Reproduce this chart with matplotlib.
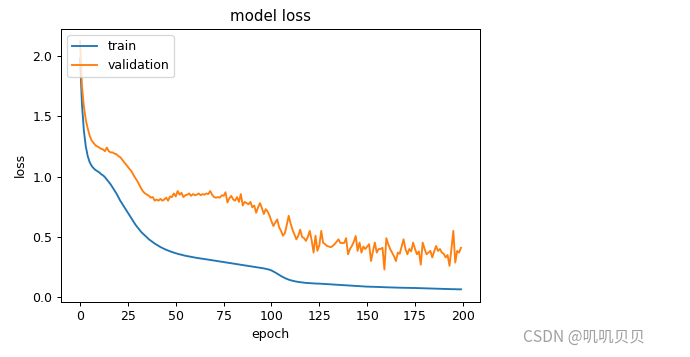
import numpy as np
import matplotlib
matplotlib.use("Agg")
import matplotlib.pyplot as plt

# === Loss history (one value per epoch) ===
train_loss = [
    1.98, 1.60, 1.38, 1.25, 1.17, 1.12, 1.09, 1.07, 1.055, 1.045,
    1.035, 1.02, 1.01, 0.995, 0.975, 0.955, 0.935, 0.91, 0.885, 0.86,
    0.83, 0.80, 0.775, 0.75, 0.725, 0.70, 0.675, 0.65, 0.625, 0.60,
    0.58, 0.56, 0.54, 0.525, 0.51, 0.495, 0.48, 0.468, 0.456, 0.445,
    0.435, 0.425, 0.416, 0.408, 0.40, 0.393, 0.387, 0.381, 0.375, 0.37,
    0.365, 0.36, 0.356, 0.352, 0.348, 0.344, 0.341, 0.338, 0.335, 0.332,
    0.329, 0.326, 0.324, 0.321, 0.319, 0.317, 0.314, 0.312, 0.309, 0.307,
    0.304, 0.302, 0.299, 0.297, 0.294, 0.292, 0.289, 0.287, 0.284, 0.282,
    0.279, 0.277, 0.274, 0.272, 0.269, 0.267, 0.264, 0.262, 0.259, 0.257,
    0.254, 0.252, 0.249, 0.247, 0.244, 0.242, 0.239, 0.236, 0.232, 0.228,
    0.222, 0.214, 0.205, 0.195, 0.185, 0.176, 0.167, 0.159, 0.152, 0.146,
    0.141, 0.137, 0.133, 0.130, 0.127, 0.125, 0.123, 0.121, 0.119, 0.118,
    0.117, 0.116, 0.115, 0.114, 0.113, 0.113, 0.112, 0.111, 0.110, 0.109,
    0.108, 0.107, 0.106, 0.105, 0.104, 0.103, 0.102, 0.101, 0.100, 0.099,
    0.098, 0.097, 0.096, 0.095, 0.094, 0.093, 0.092, 0.091, 0.090, 0.089,
    0.088, 0.088, 0.087, 0.087, 0.086, 0.086, 0.085, 0.085, 0.084, 0.083,
    0.083, 0.082, 0.082, 0.081, 0.081, 0.080, 0.080, 0.079, 0.079, 0.079,
    0.078, 0.078, 0.078, 0.077, 0.077, 0.077, 0.076, 0.076, 0.075, 0.075,
    0.074, 0.074, 0.073, 0.073, 0.072, 0.072, 0.071, 0.071, 0.070, 0.070,
    0.069, 0.069, 0.068, 0.068, 0.067, 0.067, 0.067, 0.066, 0.066, 0.066,
]

val_loss = [
    2.12, 1.75, 1.58, 1.47, 1.40, 1.34, 1.30, 1.28, 1.26, 1.25,
    1.24, 1.23, 1.225, 1.21, 1.24, 1.21, 1.20, 1.20, 1.19, 1.185,
    1.17, 1.16, 1.14, 1.12, 1.10, 1.08, 1.06, 1.04, 1.01, 0.985,
    0.96, 0.93, 0.90, 0.875, 0.86, 0.85, 0.84, 0.825, 0.83, 0.80,
    0.81, 0.80, 0.815, 0.80, 0.81, 0.825, 0.80, 0.835, 0.83, 0.86,
    0.835, 0.88, 0.85, 0.865, 0.83, 0.845, 0.85, 0.86, 0.84, 0.855,
    0.845, 0.85, 0.86, 0.845, 0.855, 0.85, 0.86, 0.855, 0.88, 0.85,
    0.83, 0.825, 0.83, 0.825, 0.845, 0.84, 0.87, 0.785, 0.82, 0.84,
    0.81, 0.80, 0.83, 0.79, 0.855, 0.76, 0.79, 0.78, 0.77, 0.79,
    0.745, 0.76, 0.70, 0.745, 0.78, 0.74, 0.69, 0.73, 0.71, 0.675,
    0.63, 0.59, 0.62, 0.645, 0.58, 0.55, 0.51, 0.53, 0.60, 0.675,
    0.61, 0.56, 0.52, 0.48, 0.51, 0.56, 0.50, 0.49, 0.467, 0.50,
    0.55, 0.47, 0.37, 0.51, 0.385, 0.43, 0.55, 0.45, 0.44, 0.425,
    0.42, 0.415, 0.425, 0.44, 0.46, 0.48, 0.45, 0.45, 0.45, 0.49,
    0.356, 0.40, 0.425, 0.46, 0.508, 0.384, 0.453, 0.37, 0.42, 0.40,
    0.42, 0.44, 0.30, 0.38, 0.453, 0.37, 0.40, 0.40, 0.41, 0.23,
    0.49, 0.44, 0.40, 0.37, 0.34, 0.30, 0.37, 0.36, 0.42, 0.48,
    0.40, 0.356, 0.40, 0.38, 0.453, 0.40, 0.356, 0.38, 0.27, 0.453,
    0.40, 0.356, 0.37, 0.384, 0.33, 0.38, 0.425, 0.384, 0.40, 0.37,
    0.36, 0.33, 0.35, 0.26, 0.40, 0.55, 0.287, 0.384, 0.37, 0.41,
]

# === Plot ===
# the reference is a 72 dpi notebook figure scaled up by ~1.25, so draw at 90 dpi
DPI = 90
fig = plt.figure(figsize=(690 / DPI, 357 / DPI), dpi=DPI)
ax = fig.add_axes([0.0884, 0.1549, 0.6073, 0.764])

ax.plot(np.arange(len(train_loss)), train_loss, label="train")
ax.plot(np.arange(len(val_loss)), val_loss, label="validation")

ax.set_title("model loss")
ax.set_ylabel("loss")
ax.set_xlabel("epoch")
ax.legend(loc="upper left")

# watermark
fig.text(523 / 690, 15 / 357, "CSDN @叽叽贝贝", fontsize=12.5, color="#a0a0a0",
         ha="left", va="baseline", family=["Noto Sans CJK SC", "DejaVu Sans"])

fig.savefig("out.png", dpi=DPI)
